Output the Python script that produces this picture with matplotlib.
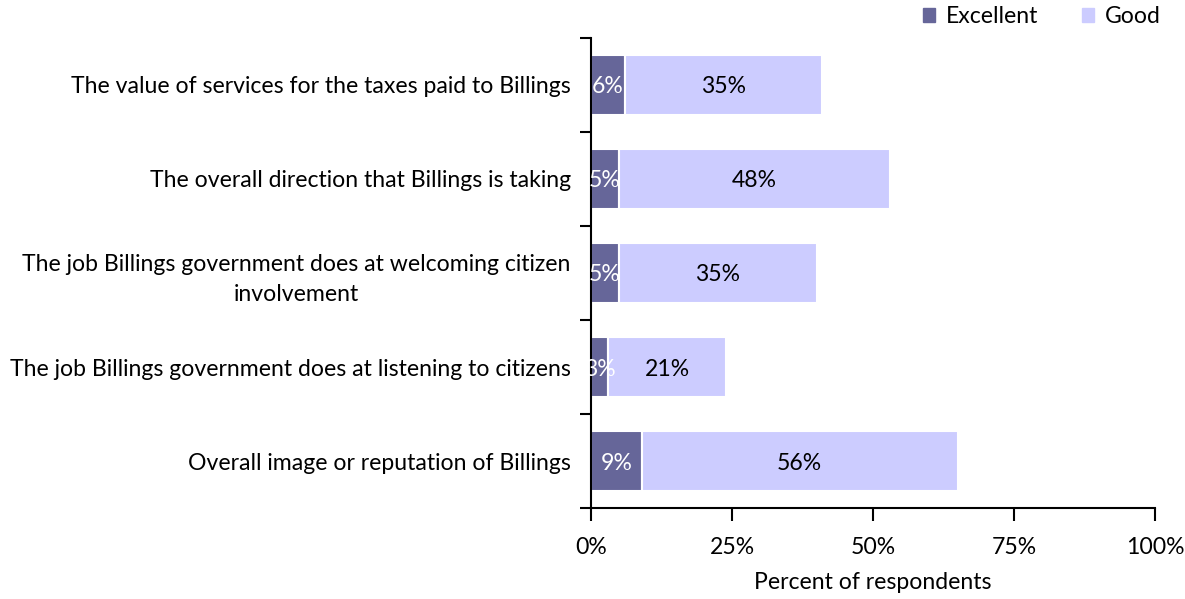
import matplotlib
matplotlib.use("Agg")
import matplotlib.pyplot as plt
from matplotlib.patches import Patch
from matplotlib.ticker import FixedLocator, PercentFormatter

plt.rcParams['font.family'] = ['Lato', 'DejaVu Sans']

categories = [
    "The value of services for the taxes paid to Billings",
    "The overall direction that Billings is taking",
    "The job Billings government does at welcoming citizen\ninvolvement",
    "The job Billings government does at listening to citizens",
    "Overall image or reputation of Billings",
]
excellent = [6, 5, 5, 3, 9]
good = [35, 48, 35, 21, 56]
series_names = ["Excellent", "Good"]
x_ticks = [0, 25, 50, 75, 100]

c_exc = "#666699"
c_good = "#CCCCFF"
fs = 16.6

fig = plt.figure(figsize=(11.85, 5.99), dpi=100)
ax = fig.add_axes([0.4987, 0.1519, 0.476, 0.7847])

y = list(range(len(categories)))[::-1]
h = 0.64
ax.barh(y, excellent, height=h, color=c_exc, edgecolor="white", linewidth=1.5)
ax.barh(y, good, left=excellent, height=h, color=c_good, edgecolor="white", linewidth=1.5)

for yi, e, g in zip(y, excellent, good):
    ax.text(e / 2, yi, f"{e}%", ha="center", va="center_baseline", color="white", fontsize=fs)
    ax.text(e + g / 2, yi, f"{g}%", ha="center", va="center_baseline", color="black", fontsize=fs)

ax.set_xlim(0, 100)
ax.set_ylim(-0.5, 4.5)
ax.xaxis.set_major_locator(FixedLocator(x_ticks))
ax.xaxis.set_major_formatter(PercentFormatter(decimals=0))
ax.set_yticks(y)
ax.set_yticklabels(categories)
for lab in ax.get_yticklabels():
    lab.set_multialignment("center")
    lab.set_linespacing(1.55)
ax.yaxis.set_minor_locator(FixedLocator([i - 0.5 for i in range(len(categories) + 1)]))
ax.tick_params(axis="y", which="major", length=0, pad=14.5, labelsize=fs)
ax.tick_params(axis="y", which="minor", length=8, width=1.5, direction="out")
ax.tick_params(axis="x", which="major", length=9, width=1.5, direction="out", pad=12, labelsize=fs)

for s in ["top", "right"]:
    ax.spines[s].set_visible(False)
for s in ["left", "bottom"]:
    ax.spines[s].set_linewidth(1.5)
    ax.spines[s].set_color("black")

ax.set_xlabel("Percent of respondents", fontsize=fs, labelpad=10)

handles = [Patch(color=c_exc), Patch(color=c_good)]
fig.legend(handles, series_names, loc="upper right", bbox_to_anchor=(0.997, 1.025),
           ncol=2, frameon=False, fontsize=fs, handlelength=0.55, handleheight=0.55,
           handletextpad=0.45, columnspacing=1.9)

fig.savefig("out.png", dpi=100)
